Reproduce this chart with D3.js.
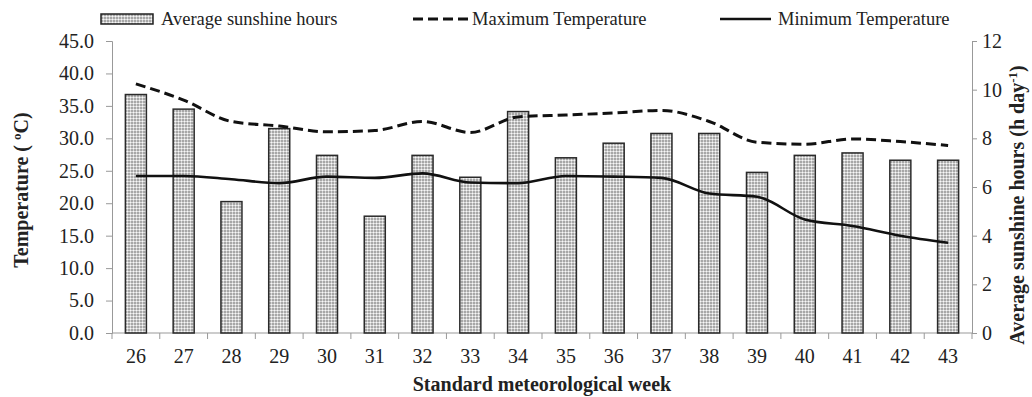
<!DOCTYPE html>
<html>
<head>
<meta charset="utf-8">
<script src="https://cdn.jsdelivr.net/npm/d3@7"></script>
<style>
  body { margin: 0; background: #fff; }
  svg { font-family: "Liberation Serif", "Times New Roman", serif; }
  .axis path, .axis line { stroke: #999; }
  .axis text { fill: #222; font-size: 20px; font-family: "Liberation Serif", serif; }
  .title { font-weight: bold; font-size: 20px; fill: #222; }
  .legend text { font-size: 18.5px; fill: #222; }
</style>
</head>
<body>
<svg width="1032" height="397"></svg>
<script>
const weeks = [26, 27, 28, 29, 30, 31, 32, 33, 34, 35, 36, 37, 38, 39, 40, 41, 42, 43];
const sunshine = [9.8, 9.2, 5.4, 8.4, 7.3, 4.8, 7.3, 6.4, 9.1, 7.2, 7.8, 8.2, 8.2, 6.6, 7.3, 7.4, 7.1, 7.1];
const maxTemp = [38.4, 35.9, 32.6, 31.9, 31.0, 31.2, 32.6, 30.9, 33.3, 33.6, 33.9, 34.3, 32.6, 29.4, 29.1, 29.9, 29.5, 28.9];
const minTemp = [24.2, 24.2, 23.7, 23.1, 24.1, 23.9, 24.6, 23.2, 23.1, 24.2, 24.1, 23.9, 21.5, 21.0, 17.5, 16.5, 15.0, 13.9];
const tempTicks = [0, 5, 10, 15, 20, 25, 30, 35, 40, 45];
const sunTicks = [0, 2, 4, 6, 8, 10, 12];

function drawChart() {
  const svg = d3.select("svg");
  const left = 112, right = 972, top = 41, bottom = 333;

  const x = d3.scaleBand().domain(weeks).range([left, right]).paddingInner(0.56).paddingOuter(0.28);
  const xTicks = d3.scaleLinear().domain([0, weeks.length]).range([left, right]);
  const yTemp = d3.scaleLinear().domain([0, 45]).range([bottom, top]);
  const ySun = d3.scaleLinear().domain([0, 12]).range([bottom, top]);

  // dotted fill for the bars
  const pat = svg.append("defs").append("pattern")
    .attr("id", "dots").attr("patternUnits", "userSpaceOnUse")
    .attr("width", 3).attr("height", 3);
  pat.append("rect").attr("width", 3).attr("height", 3).attr("fill", "#8c8c8c");
  pat.append("circle").attr("cx", 1.5).attr("cy", 1.5).attr("r", 1.2).attr("fill", "#f8f8f8");

  // axes
  svg.append("g").attr("class", "axis")
    .attr("transform", `translate(${left},0)`)
    .call(d3.axisLeft(yTemp).tickValues(tempTicks).tickFormat(d3.format(".1f")).tickSize(6).tickPadding(12));
  svg.append("g").attr("class", "axis")
    .attr("transform", `translate(${right},0)`)
    .call(d3.axisRight(ySun).tickValues(sunTicks).tickSize(5).tickPadding(5));

  const xAxis = svg.append("g").attr("class", "axis")
    .attr("transform", `translate(0,${bottom})`);
  xAxis.append("line").attr("x1", left).attr("x2", right).attr("stroke", "#999");
  xAxis.selectAll("line.tk")
    .data(d3.range(weeks.length + 1))
    .join("line").attr("class", "tk")
    .attr("x1", (d) => xTicks(d)).attr("x2", (d) => xTicks(d))
    .attr("y1", 0).attr("y2", 6);
  xAxis.selectAll("text")
    .data(weeks)
    .join("text")
    .attr("x", (d) => x(d) + x.bandwidth() / 2)
    .attr("y", 16).attr("dy", "0.71em")
    .attr("text-anchor", "middle")
    .text((d) => d);
  svg.selectAll(".axis .domain").attr("stroke", "#999");

  // bars
  svg.append("g").selectAll("rect")
    .data(weeks)
    .join("rect")
    .attr("x", (d) => x(d))
    .attr("width", x.bandwidth())
    .attr("y", (d, i) => ySun(sunshine[i]))
    .attr("height", (d, i) => bottom - ySun(sunshine[i]))
    .attr("fill", "url(#dots)")
    .attr("stroke", "#2a2a2a")
    .attr("stroke-width", 1.5);

  // lines
  const line = d3.line()
    .x((d, i) => x(weeks[i]) + x.bandwidth() / 2)
    .y((d) => yTemp(d))
    .curve(d3.curveMonotoneX);
  svg.append("path").datum(maxTemp)
    .attr("d", line).attr("fill", "none")
    .attr("stroke", "#111").attr("stroke-width", 3)
    .attr("stroke-dasharray", "10,5");
  svg.append("path").datum(minTemp)
    .attr("d", line).attr("fill", "none")
    .attr("stroke", "#111").attr("stroke-width", 2.6);

  // axis titles
  svg.append("text").attr("class", "title")
    .attr("x", (left + right) / 2).attr("y", 391)
    .attr("text-anchor", "middle")
    .text("Standard meteorological week");
  svg.append("text").attr("class", "title")
    .attr("transform", `translate(28,190) rotate(-90)`)
    .attr("text-anchor", "middle")
    .attr("font-size", 21.5)
    .text("Temperature ( ºC)");
  const rt = svg.append("text").attr("class", "title")
    .attr("transform", `translate(1024,205) rotate(-90)`)
    .attr("text-anchor", "middle");
  rt.append("tspan").text("Average sunshine hours (h day");
  rt.append("tspan").attr("dy", -7).attr("font-size", 13).text("-1");
  rt.append("tspan").attr("dy", 7).text(")");

  // legend
  const lg = svg.append("g").attr("class", "legend");
  lg.append("rect").attr("x", 101).attr("y", 14).attr("width", 52).attr("height", 10)
    .attr("fill", "url(#dots)").attr("stroke", "#222").attr("stroke-width", 1.5);
  lg.append("text").attr("x", 161).attr("y", 25).text("Average sunshine hours");
  lg.append("line").attr("x1", 413).attr("x2", 468).attr("y1", 19).attr("y2", 19)
    .attr("stroke", "#111").attr("stroke-width", 3).attr("stroke-dasharray", "10,5");
  lg.append("text").attr("x", 472).attr("y", 25).text("Maximum Temperature");
  lg.append("line").attr("x1", 720).attr("x2", 771).attr("y1", 19).attr("y2", 19)
    .attr("stroke", "#111").attr("stroke-width", 2.6);
  lg.append("text").attr("x", 778).attr("y", 25).text("Minimum Temperature");
}

drawChart();
</script>
</body>
</html>
